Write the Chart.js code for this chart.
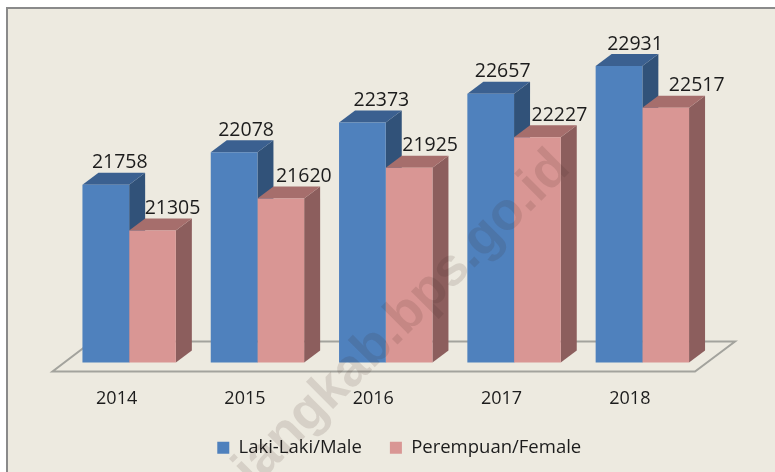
<!DOCTYPE html>
<html>
<head>
<meta charset="utf-8">
<script src="https://cdn.jsdelivr.net/npm/chart.js@4/dist/chart.umd.min.js"></script>
<style>
    html, body { margin: 0; padding: 0; background: #fff; overflow: hidden; }
    #panel { position: absolute; left: 6px; top: 7px; width: 769px; height: 465px; background: #edeae0; border-left: 2px solid #8a8a8a; border-top: 2px solid #8a8a8a; box-sizing: border-box; }
    #wrap { position: absolute; left: 0; top: 0; width: 775px; height: 472px; }
</style>
</head>
<body>
<div id="panel"></div>
<div id="wrap"><canvas id="chart"></canvas></div>
<script>
const years = ['2014', '2015', '2016', '2017', '2018'];
const male = [21758, 22078, 22373, 22657, 22931];
const female = [21305, 21620, 21925, 22227, 22517];
const seriesNames = ['Laki-Laki/Male', 'Perempuan/Female'];

// ラベルの横ずれ（元画像に合わせる）
const maleLabelShift = [14, 12, 19, 12, 16];
const femaleLabelShift = [20, 23, 21, 22, 31];

const DEPTH_X = 16;
const DEPTH_Y = 12;
const FONT = '"Open Sans", sans-serif';

const faces = [
    { top: '#3b6090', side: '#315279' },
    { top: '#a66e6c', side: '#8c5e5d' }
];

function poly(ctx, pts, color) {
    ctx.fillStyle = color;
    ctx.beginPath();
    pts.forEach((p, i) => i ? ctx.lineTo(p[0], p[1]) : ctx.moveTo(p[0], p[1]));
    ctx.closePath();
    ctx.fill();
}

// 床と棒の奥行きを描画
const box3d = {
    id: 'box3d',
    beforeDatasetsDraw(chart) {
        const ctx = chart.ctx;
        const a = chart.chartArea;
        ctx.save();
        ctx.strokeStyle = '#a3a39d';
        ctx.lineWidth = 2;
        ctx.beginPath();
        ctx.moveTo(a.left + 27, a.bottom - 21);
        ctx.lineTo(a.right + 28.5, a.bottom - 21);
        ctx.lineTo(a.right - 11.5, a.bottom + 9);
        ctx.lineTo(a.left - 12.5, a.bottom + 9);
        ctx.closePath();
        ctx.stroke();
        ctx.restore();

        // 青を先に、ピンクを後に描く
        chart.data.datasets.forEach((ds, i) => {
            const c = faces[i];
            chart.getDatasetMeta(i).data.forEach(bar => {
                const l = bar.x - bar.width / 2;
                const r = bar.x + bar.width / 2;
                const t = bar.y;
                const b = a.bottom;
                poly(ctx, [[r, t], [r + DEPTH_X, t - DEPTH_Y], [r + DEPTH_X, b - DEPTH_Y], [r, b]], c.side);
                poly(ctx, [[l, t], [l + DEPTH_X, t - DEPTH_Y], [r + DEPTH_X, t - DEPTH_Y], [r, t]], c.top);
            });
        });
    },
    afterLayout(chart) {
        // 凡例の位置を調整
        chart.legend.left += 13.5;
        chart.legend.right += 13.5;
        chart.legend.top -= 5;
        chart.legend.bottom -= 5;
    },
    afterDatasetsDraw(chart) {
        const ctx = chart.ctx;
        const shifts = [maleLabelShift, femaleLabelShift];
        ctx.save();
        ctx.font = '19.5px ' + FONT;
        ctx.fillStyle = '#1c1c1c';
        ctx.textAlign = 'center';
        ctx.textBaseline = 'middle';
        chart.data.datasets.forEach((ds, i) => {
            chart.getDatasetMeta(i).data.forEach((bar, j) => {
                ctx.fillText(ds.data[j], bar.x + shifts[i][j], bar.y - 22);
            });
        });
        ctx.restore();
    },
    afterDraw(chart) {
        // 透かし
        const ctx = chart.ctx;
        ctx.save();
        ctx.translate(572, 170);
        ctx.rotate(-Math.PI / 4);
        ctx.font = 'bold 53px "Liberation Sans", sans-serif';
        ctx.fillStyle = 'rgba(60, 40, 30, 0.13)';
        ctx.textAlign = 'right';
        ctx.textBaseline = 'alphabetic';
        ctx.fillText('iangkab.bps.go.id', 0, 0);
        ctx.restore();
    }
};

new Chart(document.getElementById('chart'), {
    type: 'bar',
    data: {
        labels: years,
        datasets: [
            { label: seriesNames[0], data: male, backgroundColor: '#4f81bd' },
            { label: seriesNames[1], data: female, backgroundColor: '#d99694' }
        ]
    },
    plugins: [box3d],
    options: {
        responsive: true,
        maintainAspectRatio: false,
        animation: false,
        layout: { padding: { left: 65, right: 68.5, top: 59, bottom: 0 } },
        datasets: { bar: { categoryPercentage: 0.728, barPercentage: 1 } },
        scales: {
            x: {
                grid: { display: false },
                border: { display: false },
                afterFit(scale) { scale.height = 53; },
                ticks: { color: '#1c1c1c', font: { family: FONT, size: 18 }, labelOffset: -12.5, padding: 18, maxRotation: 0 }
            },
            y: { display: false, min: 20000, max: 23000 }
        },
        plugins: {
            tooltip: { enabled: false },
            legend: {
                position: 'bottom',
                labels: { color: '#1c1c1c', font: { family: FONT, size: 18.5 }, boxWidth: 12, boxHeight: 12, padding: 28 }
            }
        }
    }
});
</script>
</body>
</html>
